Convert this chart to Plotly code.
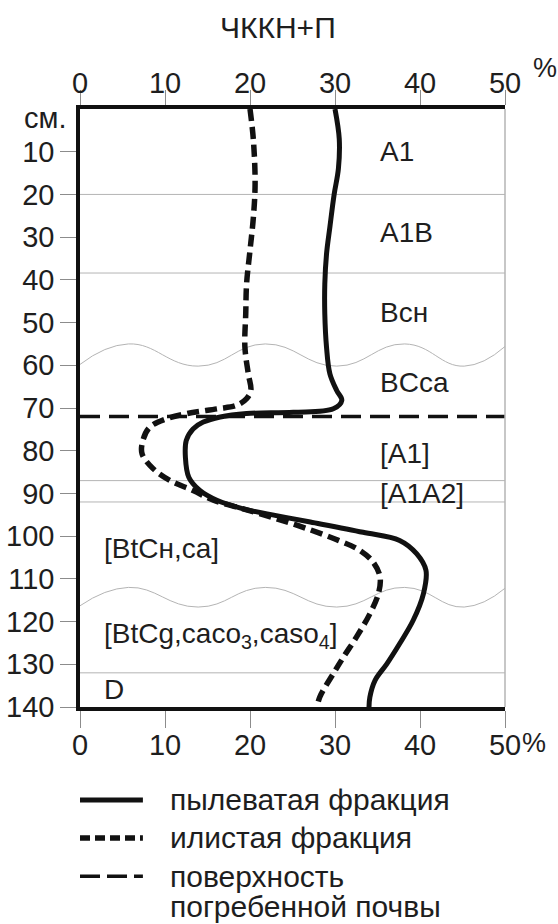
import plotly.graph_objects as go

# ---------------- data ----------------
silt_depth = [0, 7, 14, 20, 27.6, 34, 41, 48, 55.7, 62, 65.9, 68.2, 70.2, 71.0, 71.3, 72.1, 73.3, 74.9,
              77.6, 81.5, 86.2, 89.3, 91.6, 93.6, 95.2, 96.7, 99.1, 101, 104.1, 108, 113.5, 119.7,
              125.2, 129.9, 133.8, 137.7, 140]
silt_pct = [30.0, 30.5, 30.4, 29.9, 29.4, 29.0, 28.8, 28.8, 29.0, 29.4, 30.2, 30.8, 29.8, 25.1, 19.6, 16.5, 14.5, 13.3,
            12.5, 12.4, 12.8, 14.1, 16.1, 19.2, 23.1, 27.1, 33.3, 37.6, 39.6, 40.7, 40.4, 39.2,
            37.6, 36.1, 34.7, 34.1, 34.0]

clay_depth = [0, 7.3, 17.5, 25.3, 33.1, 40.9, 47.9, 55.7, 62.0, 65.9, 67.8, 69.4, 70.2, 71.3, 72.5, 74.5,
              77.6, 80.7, 84.2, 87.0, 89.3, 91.6, 93.6, 95.9, 98.1, 101, 103.3, 106.1, 109.6, 113.5,
              118.2, 123.7, 128.3, 132.2, 137.7, 140]
clay_pct = [20.0, 20.4, 20.6, 20.4, 20.0, 19.6, 19.5, 19.4, 19.8, 20.1, 19.6, 18.4, 16.1, 12.6, 10.2, 8.2,
            7.4, 7.3, 8.6, 10.6, 13.3, 15.7, 19.2, 23.1, 26.5, 30.4, 32.9, 34.5, 35.3, 35.1,
            34.1, 32.5, 31.0, 29.8, 28.2, 27.9]

buried_surface_depth = 72
boundary_depths = [20, 38.4, 87, 92, 132]

wave_x = [0, 5.7, 13.9, 21.8, 30.2, 38.2, 45.2, 50]
wave1_depth = [59.8, 55.0, 60.2, 55.0, 60.2, 55.0, 60.2, 55.6]
wave2_depth = [116.3, 112.0, 116.6, 112.0, 116.6, 112.0, 116.6, 112.2]

horizons_upper = ["A1", "A1B", "Bсн", "BCca", "[A1]", "[A1A2]"]
horizons_upper_depth = [10, 29, 47.6, 64, 80.7, 90]
horizons_lower = ["[BtCн,ca]", "[BtCg,caco<sub>3</sub>,caso<sub>4</sub>]", "D"]
horizons_lower_depth = [103, 123.3, 136]

x_ticks = [0, 10, 20, 30, 40, 50]
y_ticks = [10, 20, 30, 40, 50, 60, 70, 80, 90, 100, 110, 120, 130, 140]
y_unit = "см."

title_text = "ЧККН+П"
legend_labels = ["пылеватая фракция", "илистая фракция", "поверхность"]
legend_label_cont = "погребенной почвы"

# ---------------- figure ----------------
FONT = "Liberation Sans, Arial, sans-serif"
TXT = "#1e1e1e"
GRID = "#b4b4b4"

fig = go.Figure()

# horizon boundaries (thin gray)
for d in boundary_depths:
    fig.add_trace(go.Scatter(x=[0, 50], y=[d, d], mode="lines",
                             line=dict(color=GRID, width=1), hoverinfo="skip", showlegend=False))
for wd in (wave1_depth, wave2_depth):
    fig.add_trace(go.Scatter(x=wave_x, y=wd, mode="lines",
                             line=dict(color=GRID, width=1, shape="spline", smoothing=1.3),
                             hoverinfo="skip", showlegend=False))

# buried soil surface
fig.add_trace(go.Scatter(x=[0, 50], y=[buried_surface_depth] * 2, mode="lines",
                         line=dict(color="#111", width=3.5, dash="20px,9px"), showlegend=False))

# clay fraction (dotted)
fig.add_trace(go.Scatter(x=clay_pct, y=clay_depth, mode="lines",
                         line=dict(color="#111", width=5.5, dash="12px,6px", shape="spline", smoothing=1.0),
                         showlegend=False))
# silt fraction (solid)
fig.add_trace(go.Scatter(x=silt_pct, y=silt_depth, mode="lines",
                         line=dict(color="#111", width=5, shape="spline", smoothing=1.0),
                         showlegend=False))

# top axis helper trace
fig.add_trace(go.Scatter(x=[0], y=[0], xaxis="x2", mode="markers",
                         marker=dict(opacity=0), hoverinfo="skip", showlegend=False))

# horizon labels
for name, d in zip(horizons_upper, horizons_upper_depth):
    fig.add_annotation(x=35, y=d, text=name, showarrow=False, xanchor="left", yanchor="middle",
                       font=dict(family=FONT, size=28, color=TXT))
for name, d in zip(horizons_lower, horizons_lower_depth):
    fig.add_annotation(x=2.6, y=d, text=name, showarrow=False, xanchor="left", yanchor="middle",
                       font=dict(family=FONT, size=28, color=TXT))

# unit label for the depth axis
fig.add_annotation(xref="paper", yref="y", x=0, y=2.0, text=y_unit, showarrow=False,
                   xanchor="right", yanchor="middle", xshift=-11,
                   font=dict(family=FONT, size=29, color=TXT))

# title and % signs
fig.add_annotation(xref="paper", yref="paper", x=0.466, y=1.137, text=title_text, showarrow=False,
                   xanchor="center", yanchor="middle",
                   font=dict(family=FONT, size=30, color=TXT))
fig.add_annotation(xref="paper", yref="paper", x=1.094, y=1.068, text="%", showarrow=False,
                   xanchor="center", yanchor="middle",
                   font=dict(family=FONT, size=27, color=TXT))
fig.add_annotation(xref="paper", yref="paper", x=1.068, y=-0.061, text="%", showarrow=False,
                   xanchor="center", yanchor="middle",
                   font=dict(family=FONT, size=27, color=TXT))

# right border (thin gray)
fig.add_shape(type="line", xref="paper", yref="paper", x0=1, x1=1, y0=0, y1=1,
              line=dict(color=GRID, width=1.5))

# manual legend
leg_rows_y = [-0.1555, -0.219, -0.283]
leg_styles = [dict(width=5, dash="solid"), dict(width=5.5, dash="10px,5px"), dict(width=3.5, dash="20px,7px")]
for yy, lab, st in zip(leg_rows_y, legend_labels, leg_styles):
    fig.add_shape(type="line", xref="paper", yref="paper", x0=0.0, x1=0.148, y0=yy, y1=yy,
                  line=dict(color="#111", **st))
    fig.add_annotation(xref="paper", yref="paper", x=0.207, y=yy, text=lab, showarrow=False,
                       xanchor="left", yanchor="middle", align="left",
                       font=dict(family=FONT, size=30, color=TXT))
fig.add_annotation(xref="paper", yref="paper", x=0.207, y=-0.334, text=legend_label_cont, showarrow=False,
                   xanchor="left", yanchor="middle", align="left",
                   font=dict(family=FONT, size=30, color=TXT))

axis_common = dict(range=[0, 50], tickvals=x_ticks, ticks="outside", tickcolor="#8c8c8c",
                   tickwidth=1, showgrid=False, zeroline=False, showline=True,
                   linecolor="#111", linewidth=3.5, automargin=False,
                   tickfont=dict(family=FONT, size=29, color=TXT))

fig.update_layout(
    width=558, height=924,
    margin=dict(l=80, r=53, t=109, b=217),
    paper_bgcolor="white", plot_bgcolor="white",
    showlegend=False,
    xaxis=dict(**axis_common, side="bottom", ticklen=17, ticklabelstandoff=-8),
    xaxis2=dict(**axis_common, side="top", overlaying="x", ticklen=15, matches="x",
                ticklabelstandoff=-14),
    yaxis=dict(range=[140, 0], tickvals=y_ticks, ticks="outside", automargin=False,
               ticklen=16, tickcolor="#8c8c8c", tickwidth=1, showgrid=False, zeroline=False,
               showline=True, linecolor="#111", linewidth=3.5,
               tickfont=dict(family=FONT, size=29, color=TXT)),
)

fig.write_html("out.html")
